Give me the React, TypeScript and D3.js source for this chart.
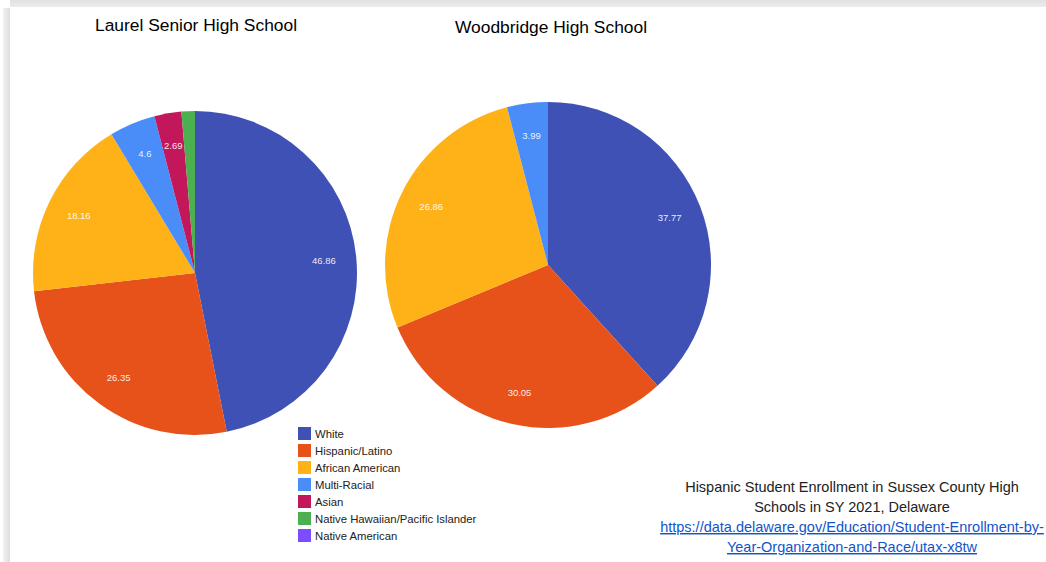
import React from "react";
import * as d3 from "d3";

const categories = ["White", "Hispanic/Latino", "African American", "Multi-Racial", "Asian", "Native Hawaiian/Pacific Islander", "Native American"];
const laurelValues = [46.86, 26.35, 18.16, 4.6, 2.69, 1.34, 0];
const woodbridgeValues = [37.77, 30.05, 26.86, 3.99, 0, 0, 0];
const schoolTitles = ["Laurel Senior High School", "Woodbridge High School"];
const colors = ["#3f51b5", "#e6521a", "#ffb218", "#4a8df8", "#c2185b", "#4caf50", "#7c4dff"];
const noteLines = ["Hispanic Student Enrollment in Sussex County High", "Schools in SY 2021, Delaware"];
const linkLines = ["https://data.delaware.gov/Education/Student-Enrollment-by-", "Year-Organization-and-Race/utax-x8tw"];

const W = 1046;
const H = 562;
const FONT = "Arial, 'Liberation Sans', sans-serif";

function Pie({ values, cx, cy, r, title, tx, ty }: { values: number[]; cx: number; cy: number; r: number; title: string; tx: number; ty: number }) {
  const data = values.map((v, i) => ({ v, i }));
  const pie = d3.pie<{ v: number; i: number }>().value((d) => d.v).sort(null);
  const arcs = pie(data);
  const arc = d3.arc<d3.PieArcDatum<{ v: number; i: number }>>().innerRadius(0).outerRadius(r);
  const labelArc = d3.arc<d3.PieArcDatum<{ v: number; i: number }>>().innerRadius(r * 0.8).outerRadius(r * 0.8);
  return (
    <g>
      <text x={tx} y={ty} textAnchor="middle" fontSize={17.4} fill="#000" fontFamily={FONT}>{title}</text>
      <g transform={`translate(${cx},${cy})`}>
        {arcs.filter((a) => a.data.v > 0).map((a) => (
          <path key={a.data.i} d={arc(a) || ""} fill={colors[a.data.i]} />
        ))}
        {arcs.filter((a) => a.data.v > 2).map((a) => {
          const [x, y] = labelArc.centroid(a);
          return (
            <text key={"l" + a.data.i} x={x} y={y} dy="0.35em" textAnchor="middle" fontSize={9.5} fill="#fff" fillOpacity={0.9} fontFamily={FONT}>
              {String(a.data.v)}
            </text>
          );
        })}
      </g>
    </g>
  );
}

export default function App() {
  return (
    <svg width={W} height={H} style={{ position: "absolute", left: 0, top: 0, background: "#fff" }}>
      <defs>
        <linearGradient id="topband" x1="0" y1="0" x2="0" y2="1">
          <stop offset="0" stopColor="#e2e2e2" />
          <stop offset="1" stopColor="#ececec" />
        </linearGradient>
        <linearGradient id="leftband" x1="0" y1="0" x2="1" y2="0">
          <stop offset="0" stopColor="#f2f2f2" />
          <stop offset="1" stopColor="#dedede" />
        </linearGradient>
      </defs>
      <rect x={0} y={0} width={W} height={H} fill="#fff" />
      <rect x={10} y={0} width={W - 10} height={7} fill="url(#topband)" />
      <rect x={3} y={8} width={7} height={H - 8} fill="url(#leftband)" />
      <Pie values={laurelValues} cx={195} cy={273} r={162} title={schoolTitles[0]} tx={196} ty={31} />
      <Pie values={woodbridgeValues} cx={548} cy={265} r={163} title={schoolTitles[1]} tx={551} ty={33} />
      <g fontFamily={FONT} fontSize={11.3} fill="#222">
        {categories.map((c, i) => (
          <g key={c} transform={`translate(298,${427 + i * 17})`}>
            <rect x={0} y={0} width={13} height={13} fill={colors[i]} />
            <text x={17} y={10.5}>{c}</text>
          </g>
        ))}
      </g>
      <g fontFamily={FONT} fontSize={14.5} textAnchor="middle">
        {noteLines.map((t, i) => (
          <text key={t} x={852} y={492 + i * 20} fill="#222">{t}</text>
        ))}
        {linkLines.map((t, i) => (
          <text key={t} x={852} y={532 + i * 20} fill="#1155cc" textDecoration="underline">{t}</text>
        ))}
      </g>
    </svg>
  );
}
